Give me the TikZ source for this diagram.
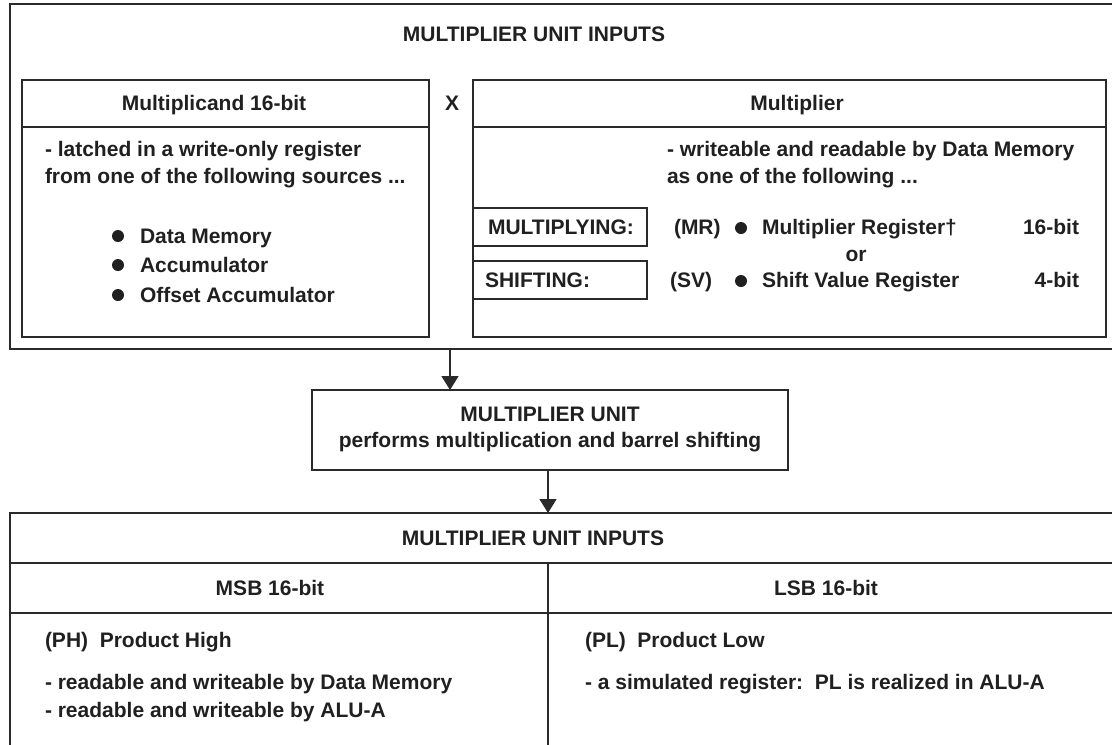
\documentclass[tikz,border=0pt]{standalone}
\usepackage{fontspec}
\setmainfont{Liberation Sans}
\usetikzlibrary{arrows.meta,fit}
\definecolor{ink}{HTML}{202020}
\definecolor{lin}{HTML}{2A2A2A}
\begin{document}
\begin{tikzpicture}[x=0.75pt,y=-0.75pt,
  every node/.style={font=\bfseries\fontsize{15.75}{20.25}\selectfont, text=ink, inner sep=0pt, outer sep=0pt},
  frame/.style={draw=lin, line width=1.8pt, inner sep=0pt},
  rule/.style={draw=lin, line width=1.7pt},
  arr/.style={draw=lin, line width=1.1pt, -{Triangle[width=12.75pt,length=10.5pt]}},
  dot/.style={circle, fill=ink, minimum size=9pt, inner sep=0pt},
  txt/.style={anchor=base west},
  ctr/.style={anchor=base},
  rgt/.style={anchor=base east}]
\useasboundingbox (0,0) rectangle (1112,744);
\fill[white] (0,0) rectangle (1112,744);
\clip (0,0) rectangle (1112,744);

% ---------- top: inputs ----------
\node[frame, fit={(10,4) (1125,349)}] (top) {};
\node[ctr] (toptitle) at (534,41.5) {MULTIPLIER UNIT INPUTS};

\node[frame, fit={(22,80) (429,337)}] (mcand) {};
\draw[rule] (mcand.west |- 0,127) -- (mcand.east |- 0,127);
\node[ctr] (mcandtitle) at (214,110.5) {Multiplicand 16-bit};
\node[txt] (l1) at (45,156) {- latched in a write-only register};
\node[txt] (l2) at (45,183) {from one of the following sources ...};
\node[dot] (b1) at (118,236) {};
\node[dot] (b2) at (118,265) {};
\node[dot] (b3) at (118,295) {};
\node[txt] (s1) at (140,243) {Data Memory};
\node[txt] (s2) at (140,272) {Accumulator};
\node[txt] (s3) at (140,302) {Offset Accumulator};

\node[ctr] (times) at (452,110.5) {X};

\node[frame, fit={(473,80) (1106,337)}] (mplier) {};
\draw[rule] (mplier.west |- 0,127) -- (mplier.east |- 0,127);
\node[ctr] (mpliertitle) at (797,110.5) {Multiplier};
\node[txt] (m1) at (667,156) {- writeable and readable by Data Memory};
\node[txt] (m2) at (667,183) {as one of the following ...};

\node[frame, fit={(473,208) (647,246)}] (multbox) {};
\node[txt] (multtxt) at (488,234.5) {MULTIPLYING:};
\node[frame, fit={(473,261) (647,299)}] (shiftbox) {};
\node[txt] (shifttxt) at (485,287.5) {SHIFTING:};

\node[txt] (mr) at (674,234.5) {(MR)};
\node[dot] (b4) at (741,228) {};
\node[txt] (mrname) at (762,234.5) {Multiplier Register†};
\node[rgt] (mrbits) at (1079,234.5) {16-bit};
\node[ctr] (or) at (856,261) {or};
\node[txt] (sv) at (670,287.5) {(SV)};
\node[dot] (b5) at (741,281) {};
\node[txt] (svname) at (762,287.5) {Shift Value Register};
\node[rgt] (svbits) at (1079,287.5) {4-bit};

% ---------- middle: unit ----------
\node[frame, fit={(312,390) (788,470)}] (unit) {};
\node[ctr] (unit1) at (550,421) {MULTIPLIER UNIT};
\node[ctr] (unit2) at (550,447) {performs multiplication and barrel shifting};

% ---------- bottom: outputs ----------
\node[frame, fit={(10,513) (1125,760)}] (bot) {};
\draw[rule] (bot.west |- 0,563) -- (bot.east |- 0,563);
\draw[rule] (bot.west |- 0,613) -- (bot.east |- 0,613);
\coordinate (split) at (548,563);
\draw[rule] (split) -- (split |- bot.south);
\node[ctr] (bottitle) at (533,545.5) {MULTIPLIER UNIT INPUTS};
\node[ctr] (msb) at (270,595.5) {MSB 16-bit};
\node[ctr] (lsb) at (826,595.5) {LSB 16-bit};
\node[txt] (ph) at (45,647) {(PH)\ \ Product High};
\node[txt] (ph1) at (45,689) {- readable and writeable by Data Memory};
\node[txt] (ph2) at (45,717) {- readable and writeable by ALU-A};
\node[txt] (pl) at (585,647) {(PL)\ \ Product Low};
\node[txt] (pl1) at (585,689) {- a simulated register:\ \ PL is realized in ALU-A};

% ---------- connectors ----------
\coordinate (a1) at (450,0);
\coordinate (a2) at (548,0);
\draw[arr] (top.south -| a1) -- (unit.north -| a1);
\draw[arr] (unit.south -| a2) -- (bot.north -| a2);
\end{tikzpicture}
\end{document}
